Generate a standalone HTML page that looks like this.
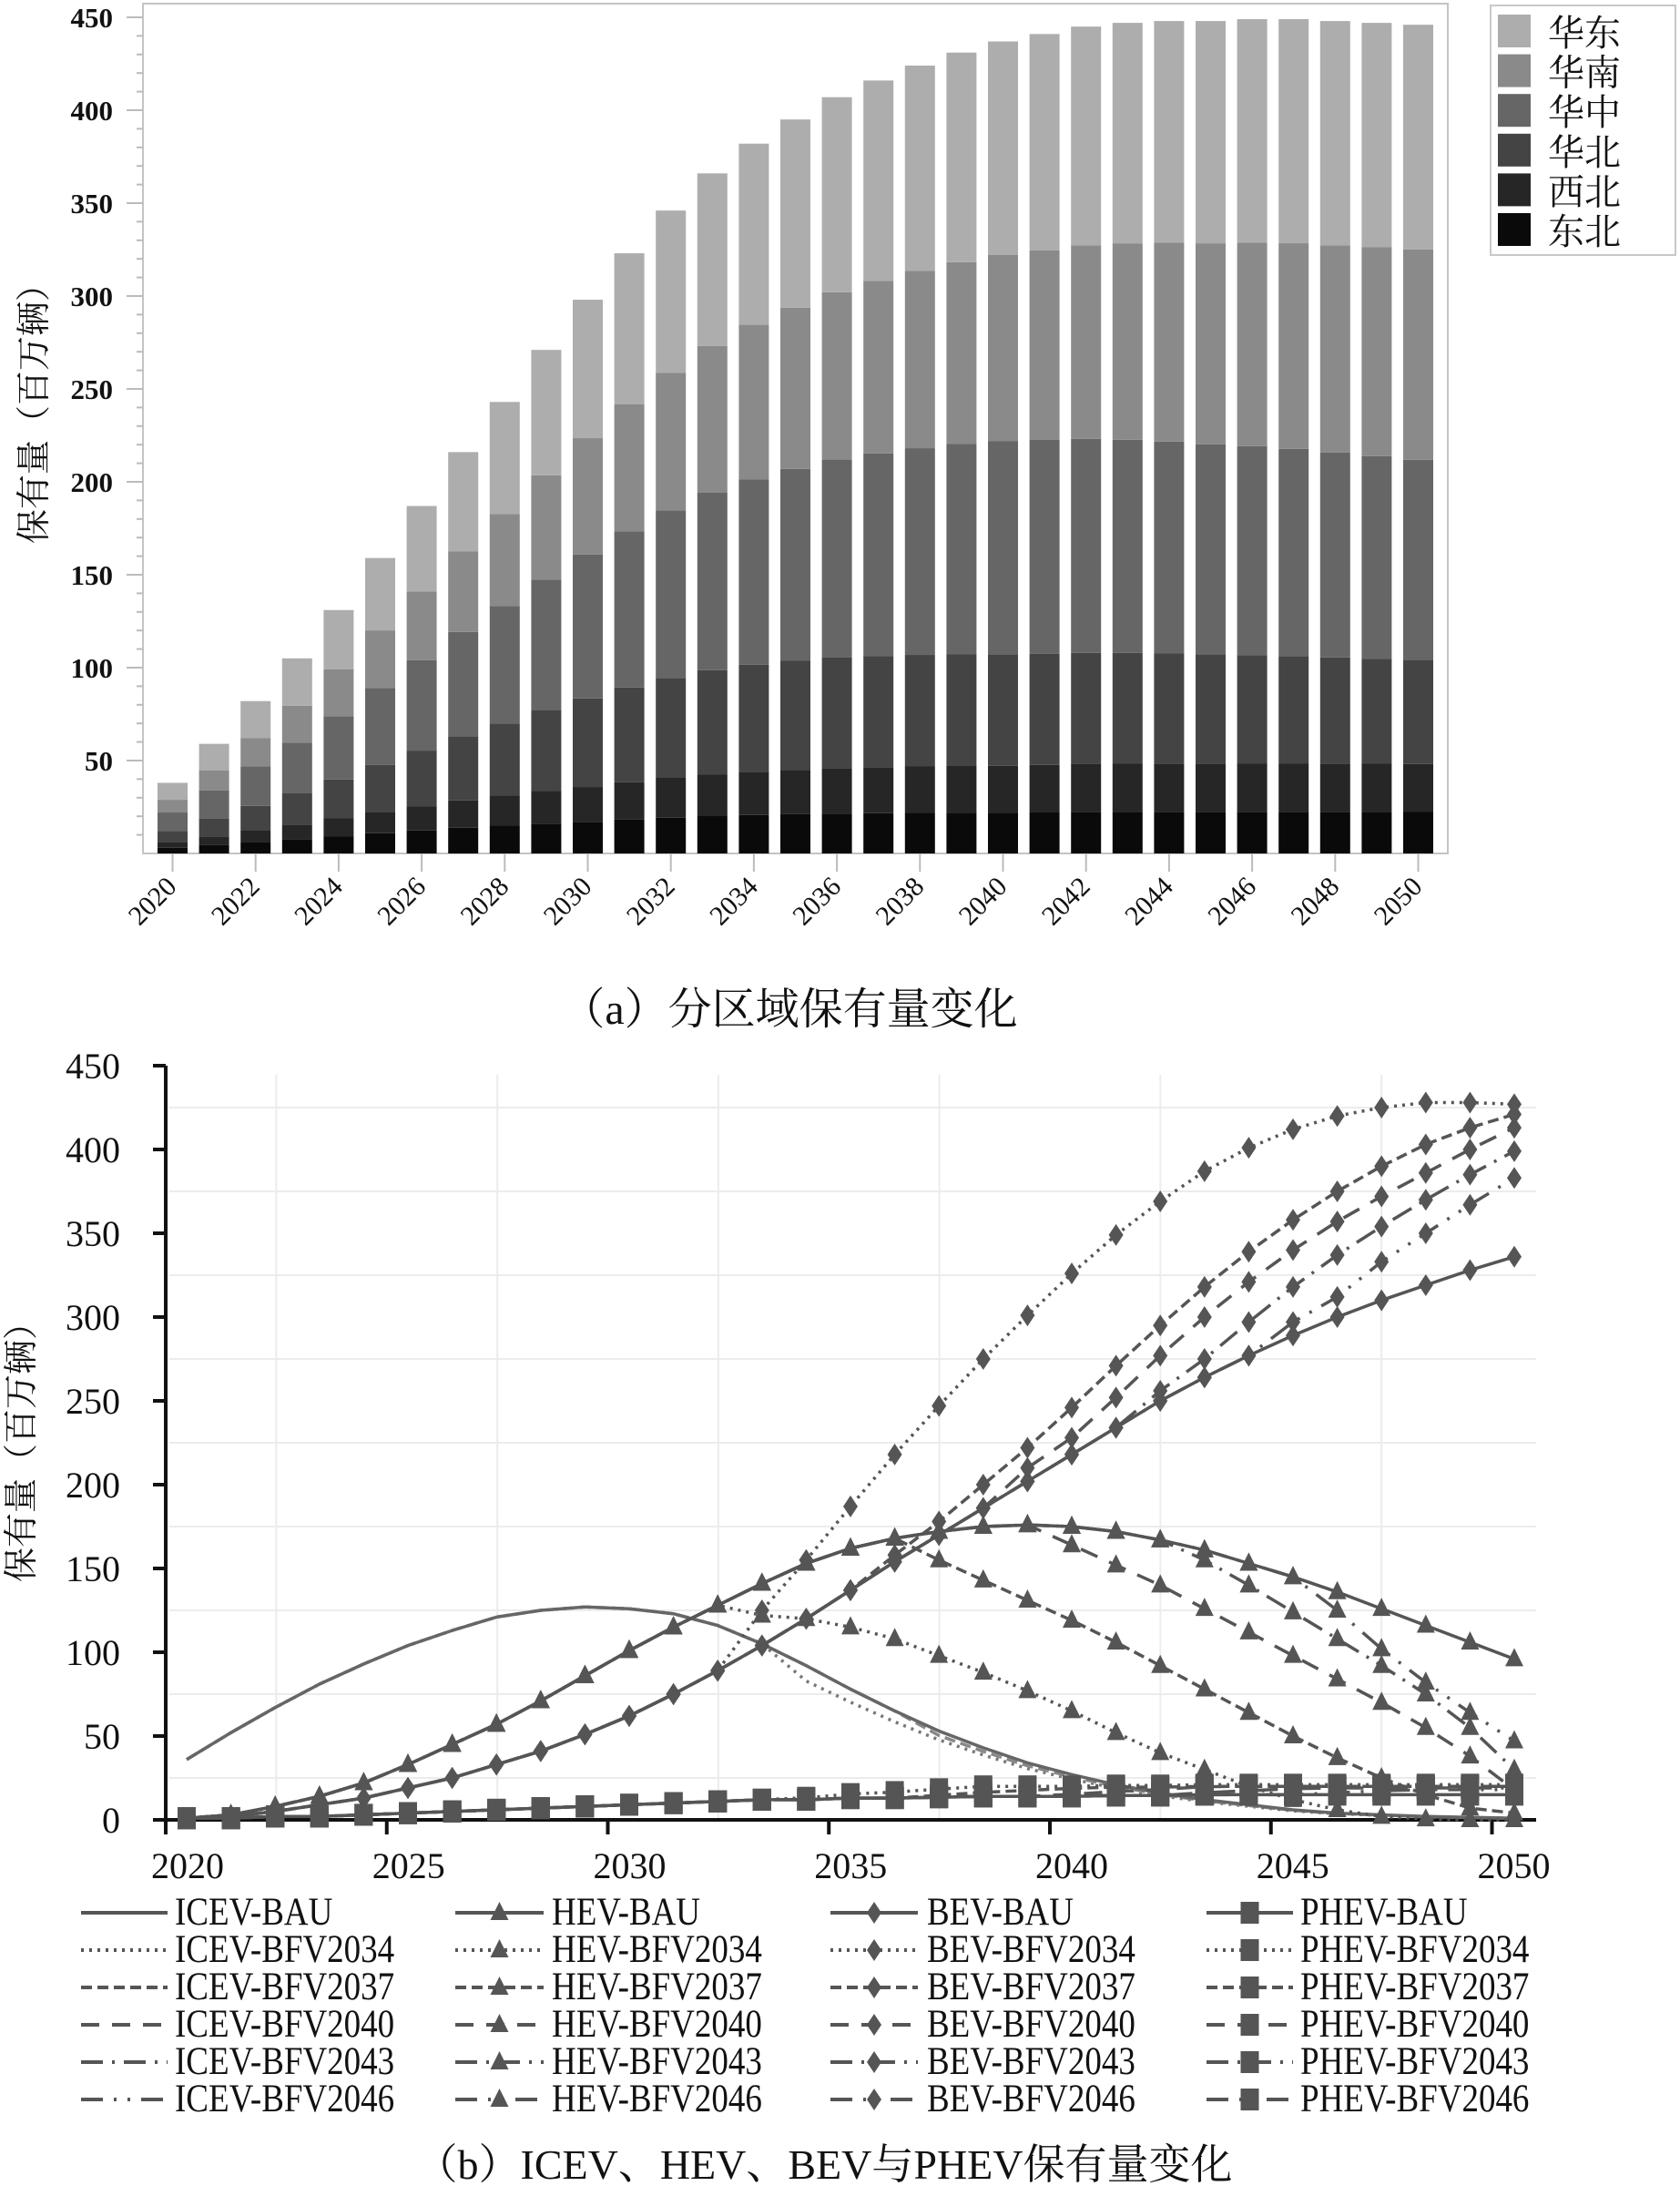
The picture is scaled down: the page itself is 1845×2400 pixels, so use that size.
<!DOCTYPE html>
<html><head><meta charset="utf-8">
<style>
html,body{margin:0;padding:0;background:#fff;}
svg{display:block;}
text{font-family:"Liberation Serif","Noto Serif CJK SC",serif;fill:#111;}
</style></head>
<body>
<svg id="s" width="1845" height="2400" xmlns="http://www.w3.org/2000/svg">
<rect width="1845" height="2400" fill="#fff"/>
<g id="top"></g>
<g id="bot"></g>
<text x="867" y="1124" font-size="48" text-anchor="middle" font-family="'Liberation Serif','Noto Serif CJK SC',serif">（a）分区域保有量变化</text>
<text x="905" y="2392" font-size="46" text-anchor="middle" font-family="'Liberation Serif','Noto Serif CJK SC',serif">（b）ICEV、HEV、BEV与PHEV保有量变化</text>
</svg>
<script>
var NS="http://www.w3.org/2000/svg";
function el(p,t,a,txt){var e=document.createElementNS(NS,t);for(var k in a)e.setAttribute(k,a[k]);if(txt!==undefined)e.textContent=txt;p.appendChild(e);return e;}
var top_=document.getElementById('top'), bot=document.getElementById('bot');

/* ---------- TOP CHART ---------- */
var L=157,R=1590,T=4,B=937, u=2.04;
el(top_,'rect',{x:L,y:T,width:R-L,height:B-T,fill:'none',stroke:'#c4c4c4','stroke-width':2});
var tot=[38,59,82,105,131,159,187,216,243,271,298,323,346,366,382,395,407,416,424,431,437,441,445,447,448,448,449,449,448,447,446];
var F={2020:[.08,.16,.32,.58,.76,1],2030:[.057,.12,.28,.54,.75,1],2040:[.05,.108,.245,.508,.737,1],2050:[.05,.108,.233,.475,.729,1]};
var cols=['#0a0a0a','#262626','#444444','#666666','#8a8a8a','#adadad'];
function frac(y){var a=Math.floor((y-2020)/10)*10+2020; if(a>=2050)return F[2050]; var b=a+10,t=(y-a)/10; return F[a].map(function(v,i){return v+(F[b][i]-v)*t;});}
for(var i=0;i<31;i++){
  var cx=189.5+i*45.6, fr=frac(2020+i), prev=0;
  for(var j=0;j<6;j++){var c=tot[i]*fr[j]; el(top_,'rect',{x:cx-16.5,y:B-c*u,width:33,height:(c-prev)*u,fill:cols[j]}); prev=c;}
  if(i%2==0){
    el(top_,'line',{x1:cx,y1:B,x2:cx,y2:B+20,stroke:'#bbb','stroke-width':2});
    el(top_,'text',{x:cx+6,y:975,'font-size':30,'text-anchor':'end',transform:'rotate(-45 '+(cx+6)+' 975)'},String(2020+i));
  }
}
for(var v=10;v<=450;v+=10){
  var y=B-v*u, maj=(v%50==0);
  el(top_,'line',{x1:maj?L-18:L-7,y1:y,x2:L,y2:y,stroke:'#bbb','stroke-width':2});
  if(maj) el(top_,'text',{x:124,y:y+11,'font-size':31,'text-anchor':'end','font-weight':'bold'},String(v));
}
el(top_,'text',{x:50,y:445,'font-size':38,'text-anchor':'middle',transform:'rotate(-90 50 445)'},'保有量（百万辆）');
// legend
el(top_,'rect',{x:1637,y:6,width:203,height:274,fill:'#fff',stroke:'#c8c8c8','stroke-width':2});
var ln=['华东','华南','华中','华北','西北','东北'];
for(var k=0;k<6;k++){
  var yy=16+k*43.6;
  el(top_,'rect',{x:1645,y:yy,width:36,height:36,fill:cols[5-k]});
  el(top_,'text',{x:1700,y:yy+34,'font-size':40},ln[k]);
}

/* ---------- BOTTOM CHART ---------- */
var X0=205,DX=48.6,Y0=1998,U=1.84,AX=182,AR=1687;
function px(i){return X0+i*DX;} function py(v){return Y0-v*U;}
for(var g=25;g<450;g+=50) el(bot,'line',{x1:AX+4,y1:py(g),x2:AR,y2:py(g),stroke:'#ececec','stroke-width':2});
for(var g=0;g<6;g++){var gx=AX+(g+0.5)*5*48.55; el(bot,'line',{x1:gx,y1:py(450)+10,x2:gx,y2:Y0,stroke:'#ececec','stroke-width':2});}
el(bot,'line',{x1:AX,y1:py(450),x2:AX,y2:Y0+2,stroke:'#111','stroke-width':4});
el(bot,'line',{x1:AX-2,y1:Y0,x2:AR,y2:Y0,stroke:'#111','stroke-width':4});
for(var v=0;v<=450;v+=50){
  el(bot,'line',{x1:AX-14,y1:py(v),x2:AX,y2:py(v),stroke:'#111','stroke-width':4});
  el(bot,'text',{x:132,y:py(v)+14,'font-size':40,'text-anchor':'end'},String(v));
}
for(var k=0;k<=6;k++){
  var tx=AX+k*5*48.55;
  el(bot,'line',{x1:tx,y1:Y0,x2:tx,y2:Y0+16,stroke:'#111','stroke-width':4});
  el(bot,'text',{x:tx+24,y:2062,'font-size':40,'text-anchor':'middle'},String(2020+k*5));
}
el(bot,'text',{x:36,y:1585,'font-size':38,'text-anchor':'middle',transform:'rotate(-90 36 1585)'},'保有量（百万辆）');

var C='#555';
var DASH={BAU:'',B34:'3,6',B37:'12,6',B40:'20,14',B43:'24,10,3,10',B46:'24,12,3,12,3,12'};
function series(vals,dash,mk,col){
  var d='';for(var i=0;i<vals.length;i++){d+=(i?'L':'M')+px(i).toFixed(1)+','+py(vals[i]).toFixed(1);}
  var a={d:d,fill:'none',stroke:col||C,'stroke-width':3.5,'stroke-linejoin':'round'}; if(dash)a['stroke-dasharray']=dash;
  el(bot,'path',a);
  if(mk) for(var i=0;i<vals.length;i++) marker(mk,px(i),py(vals[i]));
}
function marker(m,x,y,c){
  c=c||C;
  if(m=='tri') el(bot,'path',{d:'M'+x+','+(y-12)+'L'+(x+10)+','+(y+8)+'L'+(x-10)+','+(y+8)+'Z',fill:c});
  else if(m=='dia') el(bot,'path',{d:'M'+x+','+(y-12)+'L'+(x+8)+','+y+'L'+x+','+(y+12)+'L'+(x-8)+','+y+'Z',fill:c});
  else if(m=='sq') el(bot,'rect',{x:x-10,y:y-12,width:20,height:24,fill:c});
}
function join(base,upto,tail){return base.slice(0,upto+1).concat(tail);}
var ICE=[36,52,67,81,93,104,113,121,125,127,126,123,116,105,92,78,65,53,43,34,27,21,16,12,9,6,4,3,2,1.5,1];
series(ICE.map(function(v,i){return i>13?v*0.9:v;}),DASH.B34,null,'#777');
series(ICE.map(function(v,i){return i>16?v*0.95:v;}),DASH.B37,null,'#888');
series(ICE,'',null,'#666');
var HEV=[1,3,8,14,22,33,45,57,71,86,101,115,128,141,153,162,168,172,175,176,175,172,167,161,153,145,136,126,116,106,96];
series(join(HEV,12,[122,120,115,108,98,88,77,65,52,40,30,20,12,6,2,0.5,0,0]),DASH.B34,'tri');
series(join(HEV,16,[155,143,131,119,106,92,78,64,50,37,25,15,7,4]),DASH.B37,'tri');
series(join(HEV,19,[164,152,140,126,112,98,84,70,55,38,18]),DASH.B40,'tri');
series(join(HEV,22,[155,140,124,108,92,75,55,30]),DASH.B43,'tri');
series(join(HEV,25,[125,102,82,64,47]),DASH.B46,'tri');
series(HEV,'','tri');
var BEV=[1,2,5,9,13,19,25,33,41,51,62,75,89,104,120,137,154,170,186,202,218,234,250,264,277,289,300,310,319,328,336];
series(join(BEV,12,[125,155,187,218,247,275,301,326,349,369,387,401,412,420,425,428,428,427]),DASH.B34,'dia');
series(join(BEV,15,[158,178,200,222,246,271,295,318,339,358,375,390,403,413,421]),DASH.B37,'dia');
series(join(BEV,18,[210,228,252,277,300,321,340,357,372,386,400,413]),DASH.B40,'dia');
series(join(BEV,21,[256,275,297,318,337,354,370,385,399]),DASH.B43,'dia');
series(join(BEV,24,[297,312,333,350,367,383]),DASH.B46,'dia');
series(BEV,'','dia');
var PH=[1,1,2,2,3,4,5,6,7,8,9,10,11,12,12,13,13,13.5,14,14,14,14.5,14.5,15,15,15,15,15,15,15,15];
function bump(s,b){return PH.map(function(v,i){return i>s?v+Math.min(b,(i-s)*1.2):v;});}
series(bump(13,6),DASH.B34,'sq');
series(bump(16,5),DASH.B37,'sq');
series(bump(19,5),DASH.B40,'sq');
series(bump(22,4),DASH.B43,'sq');
series(bump(25,3),DASH.B46,'sq');
series(PH,'','sq');

var colsX=[[89,184,192],[500,597,606],[912,1008,1018],[1325,1420,1428]];
var names=['ICEV','HEV','BEV','PHEV'], mks=[null,'tri','dia','sq'];
var sc=['BAU','BFV2034','BFV2037','BFV2040','BFV2043','BFV2046'], dk=['BAU','B34','B37','B40','B43','B46'];
for(var c=0;c<4;c++)for(var r=0;r<6;r++){
  var y=2100+r*41, cx=colsX[c];
  var a={x1:cx[0],y1:y,x2:cx[1],y2:y,stroke:C,'stroke-width':4}; if(DASH[dk[r]])a['stroke-dasharray']=DASH[dk[r]];
  el(bot,'line',a);
  if(mks[c]) marker(mks[c],(cx[0]+cx[1])/2,y);
  el(bot,'text',{x:cx[2],y:y+13,'font-size':37,transform:'translate(0,'+(-(y+13)*0.18)+') scale(1,1.18)'},names[c]+'-'+sc[r]);
}
</script>
</body></html>
